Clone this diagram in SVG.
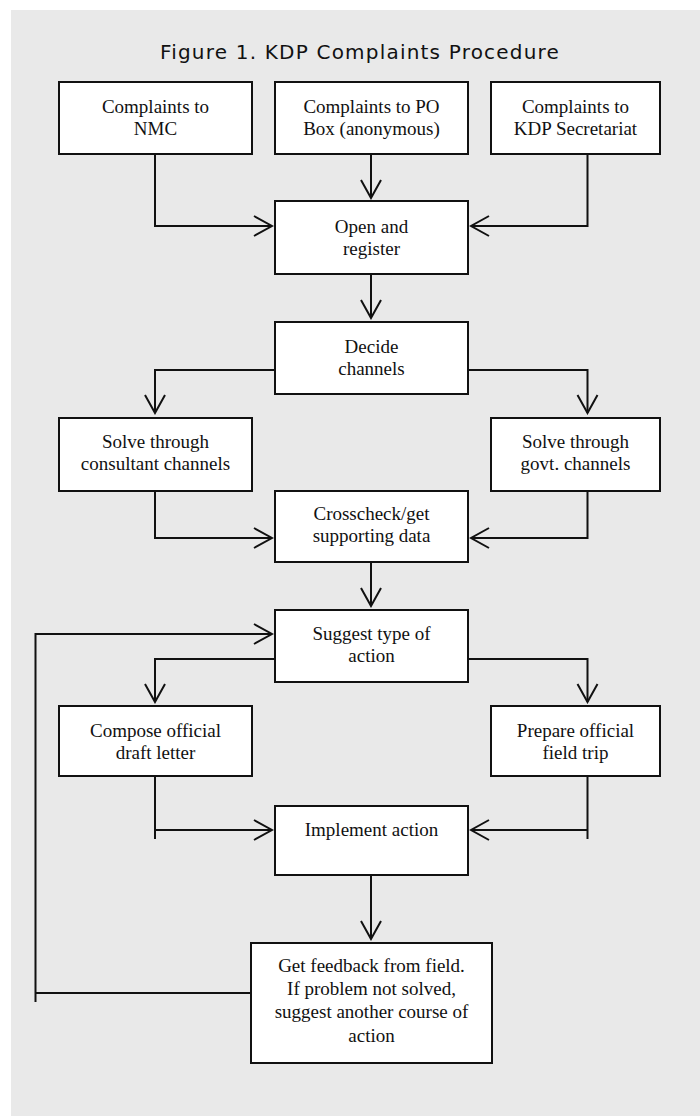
<svg xmlns="http://www.w3.org/2000/svg" width="700" height="1116" viewBox="0 0 700 1116">
<defs>
<style>
.box{fill:#ffffff;stroke:#111111;stroke-width:2}
.t{font-family:"Liberation Serif","Times New Roman",serif;font-size:19px;fill:#111111;text-anchor:middle}
.title{font-family:"DejaVu Sans","Verdana",sans-serif;font-size:20px;letter-spacing:1.2px;fill:#111111;text-anchor:middle}
.c{fill:none;stroke:#111111;stroke-width:2}
</style>
<marker id="arr" viewBox="-22 -12 24 24" refX="0" refY="0" markerWidth="24" markerHeight="24" markerUnits="userSpaceOnUse" orient="auto">
<path d="M-18,-10 L0,0 L-18,10" fill="none" stroke="#111111" stroke-width="2"/>
</marker>
</defs>
<rect x="0" y="0" width="700" height="1116" fill="#ffffff"/>
<rect x="11" y="10" width="689" height="1106" fill="#e9e9e9"/>
<text class="title" x="360" y="59">Figure 1. KDP Complaints Procedure</text>

<g id="connectors">
<path class="c" d="M155,154 V226 H272" marker-end="url(#arr)"/>
<path class="c" d="M371,154 V198" marker-end="url(#arr)"/>
<path class="c" d="M587.5,154 V226 H471" marker-end="url(#arr)"/>
<path class="c" d="M371,274 V318" marker-end="url(#arr)"/>
<path class="c" d="M275,370 H155 V413" marker-end="url(#arr)"/>
<path class="c" d="M468,370 H587.5 V413" marker-end="url(#arr)"/>
<path class="c" d="M155,491 V538 H272" marker-end="url(#arr)"/>
<path class="c" d="M587.5,491 V538 H471" marker-end="url(#arr)"/>
<path class="c" d="M371,562 V606" marker-end="url(#arr)"/>
<path class="c" d="M251,993 H35.5"/>
<path class="c" d="M35.5,1002 V634 H272" marker-end="url(#arr)"/>
<path class="c" d="M275,659 H155 V702" marker-end="url(#arr)"/>
<path class="c" d="M468,659 H587.5 V702" marker-end="url(#arr)"/>
<path class="c" d="M155,776 V839"/>
<path class="c" d="M155,830 H272" marker-end="url(#arr)"/>
<path class="c" d="M587.5,776 V839"/>
<path class="c" d="M587.5,830 H471" marker-end="url(#arr)"/>
<path class="c" d="M371,875 V939" marker-end="url(#arr)"/>
</g>

<g id="n-nmc">
<rect class="box" x="59" y="82" width="193" height="72"/>
<text class="t" x="155.5" y="113">Complaints to</text>
<text class="t" x="155.5" y="135">NMC</text>
</g>
<g id="n-pobox">
<rect class="box" x="275" y="82" width="193" height="72"/>
<text class="t" x="371.5" y="113">Complaints to PO</text>
<text class="t" x="371.5" y="135">Box (anonymous)</text>
</g>
<g id="n-kdp">
<rect class="box" x="491" y="82" width="169" height="72"/>
<text class="t" x="575.5" y="113">Complaints to</text>
<text class="t" x="575.5" y="135">KDP Secretariat</text>
</g>
<g id="n-open">
<rect class="box" x="275" y="201" width="193" height="73"/>
<text class="t" x="371.5" y="233">Open and</text>
<text class="t" x="371.5" y="255">register</text>
</g>
<g id="n-decide">
<rect class="box" x="275" y="322" width="193" height="72"/>
<text class="t" x="371.5" y="353">Decide</text>
<text class="t" x="371.5" y="375">channels</text>
</g>
<g id="n-consultant">
<rect class="box" x="59" y="418" width="193" height="73"/>
<text class="t" x="155.5" y="448">Solve through</text>
<text class="t" x="155.5" y="470">consultant channels</text>
</g>
<g id="n-govt">
<rect class="box" x="491" y="418" width="169" height="73"/>
<text class="t" x="575.5" y="448">Solve through</text>
<text class="t" x="575.5" y="470">govt. channels</text>
</g>
<g id="n-crosscheck">
<rect class="box" x="275" y="491" width="193" height="71"/>
<text class="t" x="371.5" y="520">Crosscheck/get</text>
<text class="t" x="371.5" y="542">supporting data</text>
</g>
<g id="n-suggest">
<rect class="box" x="275" y="610" width="193" height="72"/>
<text class="t" x="371.5" y="640">Suggest type of</text>
<text class="t" x="371.5" y="662">action</text>
</g>
<g id="n-compose">
<rect class="box" x="59" y="706" width="193" height="70"/>
<text class="t" x="155.5" y="737">Compose official</text>
<text class="t" x="155.5" y="759">draft letter</text>
</g>
<g id="n-prepare">
<rect class="box" x="491" y="706" width="169" height="70"/>
<text class="t" x="575.5" y="737">Prepare official</text>
<text class="t" x="575.5" y="759">field trip</text>
</g>
<g id="n-implement">
<rect class="box" x="275" y="806" width="193" height="69"/>
<text class="t" x="371.5" y="836">Implement action</text>
</g>
<g id="n-feedback">
<rect class="box" x="251" y="943" width="241" height="120"/>
<text class="t" x="371.5" y="972">Get feedback from field.</text>
<text class="t" x="371.5" y="995">If problem not solved,</text>
<text class="t" x="371.5" y="1018">suggest another course of</text>
<text class="t" x="371.5" y="1042">action</text>
</g>
</svg>
